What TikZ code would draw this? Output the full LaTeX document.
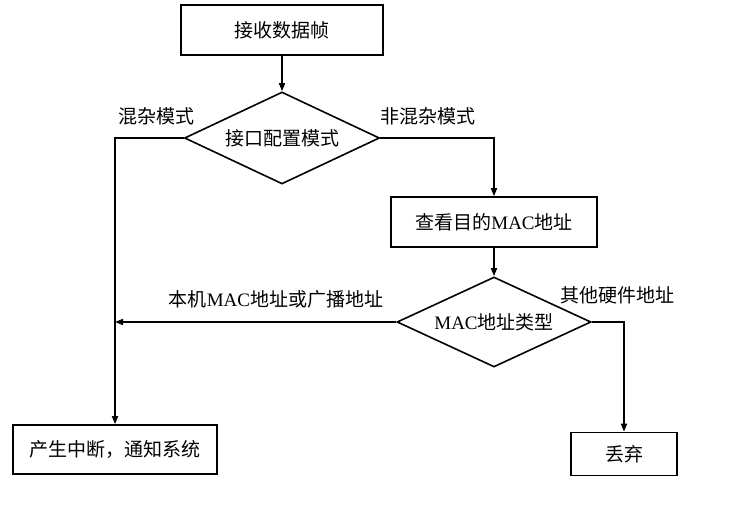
\documentclass[tikz,border=0pt]{standalone}
\usepackage{fontspec}
\setmainfont{Liberation Serif}
\newfontfamily\cjk{Noto Sans CJK SC}
\usetikzlibrary{shapes.geometric,arrows.meta}
\begin{document}
\begin{tikzpicture}[x=1pt,y=-1pt,
  every node/.style={font=\fontsize{19}{22}\selectfont},
  box/.style={draw,line width=1.6pt,inner sep=0pt,anchor=center},
  dia/.style={draw,diamond,line width=1.6pt,inner sep=0pt,aspect=2.1},
  lbl/.style={inner sep=0pt},
  arr/.style={line width=1.6pt,-{Triangle[length=8pt,width=6pt]}}]
\useasboundingbox (0,0) rectangle (733,510);
\node[box,minimum width=202,minimum height=50] (b1) at (282,30) {\cjk 接收数据帧};
\node[dia,minimum width=195,minimum height=92] (d1) at (282,138) {\cjk 接口配置模式};
\node[box,minimum width=206,minimum height=50] (b2) at (494,222) {{\cjk 查看目的}MAC{\cjk 地址}};
\node[dia,minimum width=194,minimum height=90] (d2) at (494,322) {MAC{\cjk 地址类型}};
\node[box,minimum width=204,minimum height=49] (b4) at (115,449.5) {\cjk 产生中断，通知系统};
\node[box,minimum width=106,minimum height=43] (b3) at (624,454) {\cjk 丢弃};
\node[lbl] (l1) at (156,116) {\cjk 混杂模式};
\node[lbl] (l2) at (428,116) {\cjk 非混杂模式};
\node[lbl] (l3) at (276,299) {{\cjk 本机}MAC{\cjk 地址或广播地址}};
\node[lbl] (l4) at (617,295) {\cjk 其他硬件地址};
\draw[arr] (b1) -- (d1);
\draw[arr] (d1.west) -| (b4.north);
\draw[arr] (d1.east) -| (b2.north);
\draw[arr] (b2) -- (d2);
\draw[arr] (d2.west) -- (d2.west -| b4.north);
\draw[arr] (d2.east) -| (b3.north);
\end{tikzpicture}
\end{document}
